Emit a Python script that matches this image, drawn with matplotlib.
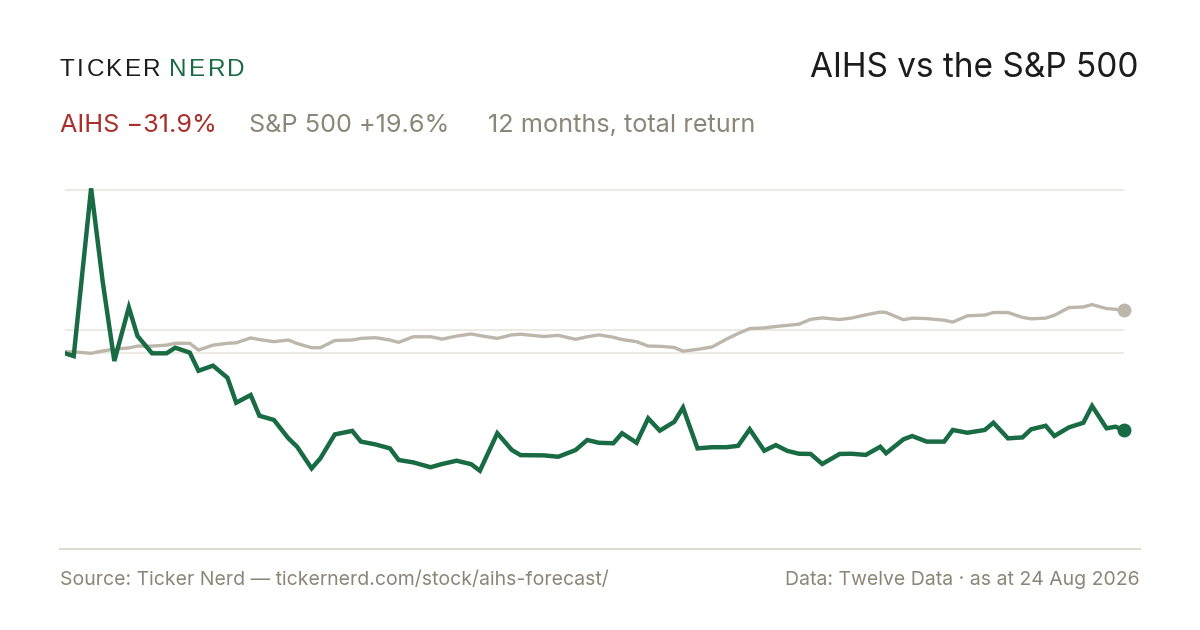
import matplotlib
matplotlib.use("Agg")
import matplotlib.pyplot as plt
from matplotlib.lines import Line2D

# ---- data (day offset within the 12-month window, % change from start) ----
days = [0, 3, 9, 13, 17, 22, 25, 30, 35, 38,
        43, 46, 51, 56, 59, 64, 67, 72, 77, 80,
        85, 88, 93, 99, 102, 107, 112, 115, 120, 126,
        130, 135, 140, 143, 149, 154, 157, 165, 170, 176,
        180, 184, 189, 192, 197, 201, 205, 210, 213, 218,
        223, 228, 232, 236, 241, 245, 249, 253, 257, 261,
        267, 271, 276, 281, 283, 289, 292, 297, 303, 306,
        311, 317, 320, 325, 330, 333, 338, 341, 346, 351,
        354, 359, 362, 365]

aihs = [0, -1.2, 70.8, 30.7, -3.3, 19.7, 7.4, 0, 0, 2.4,
        0.3, -7.5, -5.3, -10.5, -21.2, -17.9, -26.8, -28.6, -36.5, -40.1,
        -49.4, -45.1, -34.8, -33.3, -37.9, -39.1, -40.8, -45.8, -46.8, -48.9,
        -47.5, -46.1, -47.6, -50.4, -34.3, -41.5, -43.7, -43.8, -44.4, -41.5,
        -37.2, -38.4, -38.6, -34.3, -38.4, -27.9, -33.2, -29.4, -23.3, -40.8,
        -40.3, -40.3, -39.7, -32.6, -41.8, -39.4, -41.9, -43.1, -43.2, -47.5,
        -43.2, -43.1, -43.6, -40.1, -42.9, -36.9, -35.5, -37.9, -37.9, -32.9,
        -34.1, -32.9, -29.8, -36.5, -36.1, -32.6, -31.1, -35.5, -31.8, -29.8,
        -22.6, -32.2, -31.5, -32.9]

spx = [0.7, 0.6, 0, 1.0, 1.8, 2.3, 3.1, 3.1, 3.5, 4.3,
       4.3, 1.4, 3.5, 4.3, 4.5, 6.6, 5.9, 5.0, 5.7, 4.2,
       2.4, 2.4, 5.5, 5.7, 6.4, 6.7, 5.7, 4.7, 7.1, 7.1,
       6.1, 7.4, 8.3, 7.6, 6.4, 7.9, 8.2, 7.2, 7.7, 6.0,
       7.1, 7.9, 6.9, 5.9, 5.0, 3.1, 3.0, 2.5, 0.9, 1.7,
       2.7, 6.1, 8.5, 10.6, 10.9, 11.5, 12.0, 12.5, 14.6, 15.2,
       14.5, 15.1, 16.5, 17.7, 17.5, 14.4, 15.1, 14.9, 14.2, 13.4,
       16.1, 16.4, 17.5, 17.5, 15.4, 14.8, 15.1, 16.3, 19.6, 19.9,
       20.9, 19.2, 18.9, 18.5]

grid_levels = [0, 10, 70]

aihs_label = "AIHS \u221231.9%"
spx_label = "S&P 500 +19.6%"
period_label = "12 months, total return"
title = "AIHS vs the S&P 500"
source = "Source: Ticker Nerd \u2014 tickernerd.com/stock/aihs-forecast/"
data_note = "Data: Twelve Data \u00b7 as at 24 Aug 2026"

# ---- styles ----
GREEN = "#186b43"
GRAY_LINE = "#bdb6ab"
RED = "#a9302a"
TEXT_GRAY = "#8b8677"
DARK = "#1c1c1c"
GRID = "#ece8e1"
RULE = "#dcd8cc"
FONT = ["Inter", "DejaVu Sans"]
LOGO_FONT = ["Liberation Sans", "DejaVu Sans"]

W, H = 1200, 630
plt.rcParams["font.family"] = FONT
fig = plt.figure(figsize=(W / 100, H / 100), dpi=100)
fig.patch.set_facecolor("white")

top_px, bot_px = 166.9, 546.7
ax = fig.add_axes([65 / W, 1 - bot_px / H, (1124 - 65) / W, (bot_px - top_px) / H])
ax.set_xlim(days[0], days[-1])
ax.set_ylim(-83, 80)
ax.axis("off")

for g in grid_levels:
    ax.axhline(g, color=GRID, lw=1.3, zorder=1)

ax.plot(days, spx, color=GRAY_LINE, lw=2.4, solid_joinstyle="round", zorder=3)
ax.plot(days, aihs, color=GREEN, lw=3.2, solid_joinstyle="miter", zorder=4)
ax.plot([days[-1]], [spx[-1]], "o", ms=9, color=GRAY_LINE, zorder=5, clip_on=False)
ax.plot([days[-1]], [aihs[-1]], "o", ms=9, color=GREEN, zorder=6, clip_on=False)

fig.add_artist(Line2D([60 / W, 1140 / W], [1 - 549 / H] * 2, color=RULE, lw=1.3))

renderer = fig.canvas.get_renderer()


def spaced(x_px, y_px, s, size, color, spacing):
    for ch in s:
        t = fig.text(x_px / W, 1 - y_px / H, ch, fontsize=size, color=color,
                     ha="left", va="center", family=LOGO_FONT)
        w = t.get_window_extent(renderer).width
        x_px += w + spacing
    return x_px


end = spaced(60, 70, "TICKER", 17.5, DARK, 2.4)
spaced(end + 6, 70, "NERD", 17.5, GREEN, 2.4)

fig.text(1138 / W, 1 - 68 / H, title, fontsize=24, color=DARK, ha="right", va="center")

fig.text(60 / W, 1 - 125 / H, aihs_label, fontsize=18.2, color=RED, ha="left", va="center")
fig.text(249 / W, 1 - 125 / H, spx_label, fontsize=18.2, color=TEXT_GRAY, ha="left", va="center")
fig.text(488 / W, 1 - 125 / H, period_label, fontsize=18.2, color=TEXT_GRAY, ha="left", va="center")

fig.text(60 / W, 1 - 580 / H, source, fontsize=14, color=TEXT_GRAY, ha="left", va="center")
fig.text(1140 / W, 1 - 580 / H, data_note, fontsize=14, color=TEXT_GRAY, ha="right", va="center")

fig.savefig("out.png", dpi=100, facecolor="white")
